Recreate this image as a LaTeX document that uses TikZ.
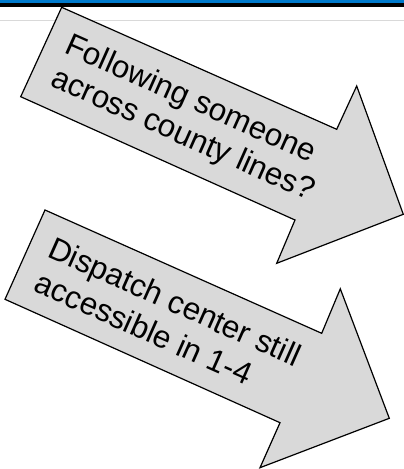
\documentclass[tikz,border=0pt]{standalone}
\usepackage{fontspec}
\setmainfont{Liberation Sans}
\definecolor{hdrblue}{RGB}{0,122,204}
\definecolor{arrowgray}{RGB}{217,217,217}
\definecolor{rulegray}{RGB}{217,217,217}
\begin{document}
\begin{tikzpicture}[x=1pt,y=-1pt,
  bigarrow/.style={draw=black,fill=arrowgray,line width=1.2pt,line join=miter},
  arrowtext/.style={anchor=base west,rotate=-24,inner sep=0pt,font=\fontsize{31.4}{36}\selectfont}]
\useasboundingbox (0,0) rectangle (404,469);
\fill[white] (0,0) rectangle (404,469);
% header
\fill[hdrblue] (0,0) rectangle (404,2.8);
\fill[black] (0,2.8) rectangle (404,7.3);
\draw[rulegray,line width=1.3pt] (0,20.7) -- (404,20.7);
% arrow 1
\draw[bigarrow] (61.7,7.3) -- (336.7,129.3) -- (356.7,86) -- (403.3,214.3)
  -- (276.7,263.3) -- (295,220) -- (20.7,96.7) -- cycle;
\node[arrowtext] (t1a) at (63,52.4) {Following someone};
\node[arrowtext] (t1b) at (49,85.3) {across county lines?};
% arrow 2
\draw[bigarrow] (45,210) -- (321.7,333.3) -- (340.3,288.8) -- (389.3,418.3)
  -- (260,467.7) -- (280,422.7) -- (5,299.3) -- cycle;
\node[arrowtext] (t2a) at (46,256.2) {Dispatch center still};
\node[arrowtext] (t2b) at (32.3,290.8) {accessible in 1-4};
\end{tikzpicture}
\end{document}
